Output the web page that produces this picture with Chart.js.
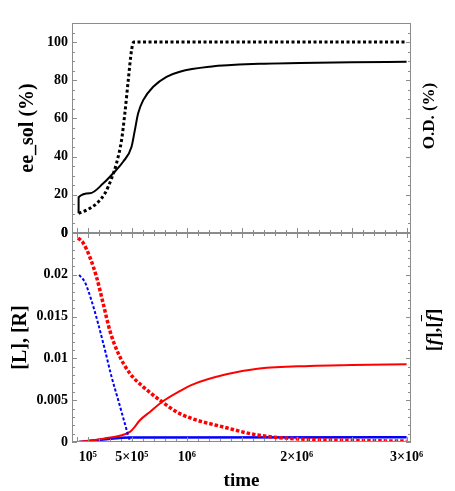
<!DOCTYPE html>
<html lang="en">
<head>
  <meta charset="UTF-8" />
  <title>ee_sol and concentrations vs time</title>
  <script src="https://cdn.jsdelivr.net/npm/chart.js"></script>
  <style>
    body {
      margin: 0;
      background: #fff;
      width: 455px;
      height: 491px;
      position: relative;
      overflow: hidden;
      font-family: "Liberation Serif", serif;
    }
    .panel { position: absolute; left: 0; width: 455px; }
    #topBox { top: 0; height: 245px; }
    #bottomBox { top: 222px; height: 269px; }
    .rlabel {
      position: absolute;
      font-weight: bold;
      white-space: nowrap;
      transform: translate(-50%, -50%) rotate(-90deg);
    }
    .bar { text-decoration: overline; }
  </style>
</head>
<body>

<div class="panel" id="topBox"><canvas id="topChart"></canvas></div>
<div class="panel" id="bottomBox"><canvas id="bottomChart"></canvas></div>

<div class="rlabel" style="left:429px; top:116px; font-size:17px;">O.D. (%)</div>
<div class="rlabel" style="left:433px; top:330px; font-size:19px;">[<i>f</i>],[<i class="bar">f</i>]</div>

<script>
  // top panel: ee_sol (solid) and O.D. (dotted)
  const eeTime = [15000, 15200, 118000, 240000, 330000, 420000, 497000, 527000, 557000, 603000, 694000, 815000, 936000, 1210000, 1660000, 2030000, 2500000, 3000000];
  const eeSol  = [10.3, 18.7, 20.8, 26, 31.3, 37.3, 45.2, 53.9, 62.7, 69.6, 76.6, 81.8, 84.5, 87.1, 88.6, 89.0, 89.4, 89.7];

  const odTime = [15000, 88000, 179000, 255000, 315000, 360000, 406000, 436000, 467000, 497000, 518000, 3000000];
  const odVal  = [10.3, 12, 15.5, 20.8, 28.6, 36.5, 48.7, 62.7, 80.1, 95.8, 100, 100];

  // bottom panel: [L], [R] (dotted) and [f], [f bar] (solid)
  const lTime = [10000, 57000, 118000, 179000, 240000, 300000, 376000, 482000, 603000, 755000, 936000, 1360000, 1660000, 2120000, 2500000, 3000000];
  const lConc = [0.0244, 0.0238, 0.0221, 0.0197, 0.0165, 0.0133, 0.0106, 0.0082, 0.0066, 0.0050, 0.0034, 0.0017, 0.0008, 0.0003, 0.0002, 0.0001];

  const rTime = [20000, 73000, 133000, 194000, 255000, 315000, 376000, 436000, 482000, 505000, 3000000];
  const rConc = [0.0200, 0.0191, 0.0169, 0.0141, 0.0110, 0.0078, 0.0050, 0.0022, 0.0002, 0, 0];

  const fTime = [15000, 240000, 482000, 512000, 573000, 664000, 785000, 936000, 1057000, 1360000, 1660000, 2120000, 2500000, 3000000];
  const fConc = [0, 0.0004, 0.0012, 0.0016, 0.0026, 0.0036, 0.0049, 0.0061, 0.0069, 0.0081, 0.0088, 0.0091, 0.0092, 0.0093];

  const fBarTime = [15000, 240000, 482000, 3000000];
  const fBarConc = [0, 0.0003, 0.00055, 0.00058];

  const topTicks = [0, 20, 40, 60, 80, 100];
  const bottomTicks = [0, 0.005, 0.01, 0.015, 0.02, 0.025];
  const xTicks = [100000, 500000, 1000000, 2000000, 3000000];
  const xTickLabels = ['10\u2075', '5\u00d710\u2075', '10\u2076', '2\u00d710\u2076', '3\u00d710\u2076'];

  const X_MIN = -45000;
  const X_MAX = 3040000;

  function pts(xs, ys) {
    return xs.map((x, i) => ({ x: x, y: ys[i] }));
  }

  // labels must not push the plot area around
  function noPad(s) {
    s.paddingTop = 0; s.paddingBottom = 0; s.paddingLeft = 0; s.paddingRight = 0;
  }

  const tickFont = { family: '"Liberation Serif", serif', size: 14, weight: 'bold' };
  const titleFont = { family: '"Liberation Serif", serif', size: 20, weight: 'bold' };

  // frame with small inward ticks, like the Mathematica frame
  const framePlugin = {
    id: 'frame',
    afterDraw(chart, args, opts) {
      const { ctx, chartArea: a, scales } = chart;
      const line = (x1, y1, x2, y2) => {
        ctx.beginPath(); ctx.moveTo(x1, y1); ctx.lineTo(x2, y2); ctx.stroke();
      };
      ctx.save();
      ctx.strokeStyle = '#8c8c8c';
      ctx.lineWidth = 1;
      ctx.strokeRect(a.left + 0.5, a.top + 0.5, a.right - a.left - 1, a.bottom - a.top - 1);

      const y = scales.y;
      for (let i = 0; i <= opts.yCount; i++) {
        const v = i * opts.yStep;
        const p = Math.round(y.getPixelForValue(v)) + 0.5;
        const len = i % opts.yMajorEvery === 0 ? 5 : 3;
        line(a.left, p, a.left + len, p);
        line(a.right, p, a.right - len, p);
      }
      const x = scales.x;
      for (let i = 0; i <= 30; i++) {
        const v = i * 100000;
        const p = Math.round(x.getPixelForValue(v)) + 0.5;
        const len = (i % 5 === 0 || i === 1) ? 5 : 3;
        if (opts.bottomTicks) line(p, a.bottom, p, a.bottom - len);
        if (opts.topTicks) line(p, a.top, p, a.top + len);
      }
      ctx.restore();
    }
  };

  new Chart(document.getElementById('topChart'), {
    type: 'line',
    data: {
      datasets: [
        {
          data: pts(eeTime, eeSol),
          borderColor: '#000', borderWidth: 2, pointRadius: 0,
          cubicInterpolationMode: 'monotone'
        },
        {
          data: pts(odTime, odVal),
          borderColor: '#000', borderWidth: 3, borderDash: [3, 2.5], pointRadius: 0,
          cubicInterpolationMode: 'monotone'
        }
      ]
    },
    options: {
      responsive: true,
      maintainAspectRatio: false,
      animation: false,
      layout: { padding: { left: 0, right: 44, top: 23, bottom: 12 } },
      plugins: {
        legend: { display: false },
        tooltip: { enabled: false },
        frame: { yCount: 22, yStep: 5, yMajorEvery: 4, bottomTicks: true, topTicks: false }
      },
      scales: {
        x: { type: 'linear', min: X_MIN, max: X_MAX, display: false },
        y: {
          min: 0, max: 110,
          afterFit: s => { s.width = 72; noPad(s); },
          afterBuildTicks: s => { s.ticks = topTicks.map(v => ({ value: v })); },
          grid: { display: false, drawTicks: false },
          border: { display: false },
          ticks: { font: tickFont, color: '#000', padding: 4 },
          title: { display: true, text: 'ee_sol (%)', font: titleFont, color: '#000', padding: { top: 16 } }
        }
      }
    },
    plugins: [framePlugin]
  });

  new Chart(document.getElementById('bottomChart'), {
    type: 'line',
    data: {
      datasets: [
        {
          data: pts(lTime, lConc),
          borderColor: '#ff0000', borderWidth: 3.5, borderDash: [3.5, 2], pointRadius: 0,
          cubicInterpolationMode: 'monotone'
        },
        {
          data: pts(rTime, rConc),
          borderColor: '#0000ff', borderWidth: 2, borderDash: [3, 2], pointRadius: 0,
          cubicInterpolationMode: 'monotone'
        },
        {
          data: pts(fTime, fConc),
          borderColor: '#ff0000', borderWidth: 2, pointRadius: 0,
          cubicInterpolationMode: 'monotone'
        },
        {
          data: pts(fBarTime, fBarConc),
          borderColor: '#0000ff', borderWidth: 2.5, pointRadius: 0,
          cubicInterpolationMode: 'monotone'
        }
      ]
    },
    options: {
      responsive: true,
      maintainAspectRatio: false,
      animation: false,
      layout: { padding: { left: 0, right: 44, top: 11, bottom: 0 } },
      plugins: {
        legend: { display: false },
        tooltip: { enabled: false },
        frame: { yCount: 25, yStep: 0.001, yMajorEvery: 5, bottomTicks: true, topTicks: true }
      },
      scales: {
        x: {
          type: 'linear', min: X_MIN, max: X_MAX,
          afterFit: s => { s.height = 49; noPad(s); },
          afterBuildTicks: s => { s.ticks = xTicks.map(v => ({ value: v })); },
          grid: { display: false, drawTicks: false },
          border: { display: false },
          ticks: {
            font: tickFont, color: '#000', padding: 7, maxRotation: 0, autoSkip: false,
            callback: v => xTickLabels[xTicks.indexOf(v)]
          },
          title: {
            display: true, text: 'time', color: '#000',
            font: { family: '"Liberation Serif", serif', size: 19, weight: 'bold', lineHeight: 1 },
            padding: { top: 0, bottom: 0 }
          }
        },
        y: {
          min: 0, max: 0.025,
          afterFit: s => { s.width = 72; noPad(s); },
          afterBuildTicks: s => { s.ticks = bottomTicks.map(v => ({ value: v })); },
          grid: { display: false, drawTicks: false },
          border: { display: false },
          ticks: {
            font: tickFont, color: '#000', padding: 4,
            // the shared corner only shows a single "0"
            callback: v => (v >= 0.025 ? '0' : String(v))
          },
          title: { display: true, text: '[L], [R]', font: titleFont, color: '#000', padding: { top: 9 } }
        }
      }
    },
    plugins: [framePlugin]
  });
</script>

</body>
</html>
